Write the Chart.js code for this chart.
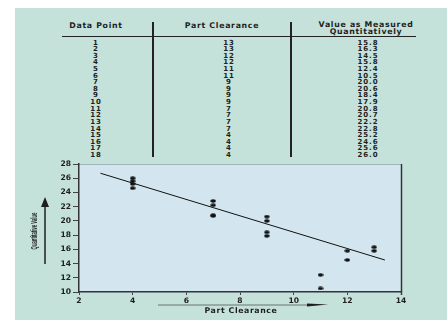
<!DOCTYPE html>
<html>
<head>
<meta charset="utf-8">
<script src="https://cdn.jsdelivr.net/npm/chart.js@4"></script>
<style>
  html, body { margin: 0; padding: 0; background: #fff; }
  body { width: 447px; height: 320px; position: relative; overflow: hidden; }
  #panel { position: absolute; left: 15px; top: 8px; right: 0; bottom: 0; background: #c5e2da; }
  .cell { position: absolute; font-family: "DejaVu Sans", sans-serif; font-weight: bold; color: #1e1e1e;
          white-space: nowrap; transform: translate(-50%, -50%); line-height: 1; }
  .hdr { font-size: 7.8px; letter-spacing: 0.7px; }
  .num { font-size: 7px; letter-spacing: 0.9px; }
  .rule { position: absolute; background: #222; }
  #chart { position: absolute; left: 0; top: 150px; }
</style>
</head>
<body>
<div id="panel"></div>
<div id="table"></div>
<canvas id="chart" width="447" height="170"></canvas>
<script>
// table / data points
const dataPoints = [1, 2, 3, 4, 5, 6, 7, 8, 9, 10, 11, 12, 13, 14, 15, 16, 17, 18];
const partClearance = [13, 13, 12, 12, 11, 11, 9, 9, 9, 9, 7, 7, 7, 7, 4, 4, 4, 4];
const measuredValues = [15.8, 16.3, 14.5, 15.8, 12.4, 10.5, 20.0, 20.6, 18.4, 17.9, 20.8, 20.7, 22.2, 22.8, 25.2, 24.6, 25.6, 26.0];

// fitted trend line
const trendX = [2.8, 13.4];
const trendY = [26.7, 14.5];

const xTicks = [2, 4, 6, 8, 10, 12, 14];
const yTicks = [10, 12, 14, 16, 18, 20, 22, 24, 26, 28];

// ---- table ----
const table = document.getElementById('table');

function addCell(text, x, y, cls) {
  const d = document.createElement('div');
  d.className = 'cell ' + cls;
  d.style.left = x + 'px';
  d.style.top = y + 'px';
  d.textContent = text;
  table.appendChild(d);
}

function addRule(x, y, w, h) {
  const d = document.createElement('div');
  d.className = 'rule';
  d.style.left = x + 'px';
  d.style.top = y + 'px';
  d.style.width = w + 'px';
  d.style.height = h + 'px';
  table.appendChild(d);
}

addCell('Data Point', 96, 26, 'hdr');
addCell('Part Clearance', 222, 26, 'hdr');
addCell('Value as Measured', 366, 25, 'hdr');
addCell('Quantitatively', 366, 31.5, 'hdr');

addRule(62, 36, 354, 1);
addRule(152, 22, 2, 135);
addRule(290, 22, 2, 135);

dataPoints.forEach((p, i) => {
  const y = 42.5 + i * 6.62;
  addCell(String(p), 96, y, 'num');
  addCell(String(partClearance[i]), 229, y, 'num');
  addCell(measuredValues[i].toFixed(1), 368, y, 'num');
});

// ---- chart ----
const TICK_FONT = { family: 'DejaVu Sans', size: 7.6, weight: 'bold' };

// flat oval marker like the printed dots
const dot = document.createElement('canvas');
dot.width = 6;
dot.height = 4;
(function () {
  const c = dot.getContext('2d');
  c.fillStyle = '#111';
  c.beginPath();
  c.ellipse(3, 2, 2.8, 1.8, 0, 0, Math.PI * 2);
  c.fill();
})();

const plotBg = {
  id: 'plotBg',
  beforeDraw(chart) {
    const { ctx, chartArea: a } = chart;
    ctx.save();
    ctx.fillStyle = '#d3e6ef';
    ctx.fillRect(a.left, a.top, a.right - a.left, a.bottom - a.top);
    ctx.strokeStyle = '#9fb3bb';
    ctx.lineWidth = 1;
    ctx.beginPath();
    ctx.moveTo(a.left, a.top + 0.5);
    ctx.lineTo(a.right, a.top + 0.5);
    ctx.stroke();
    ctx.strokeStyle = '#333';
    ctx.lineWidth = 1.5;
    ctx.beginPath();
    ctx.moveTo(a.right + 0.5, a.top);
    ctx.lineTo(a.right + 0.5, a.bottom + 3);
    ctx.stroke();
    ctx.restore();
  }
};

const axisTitles = {
  id: 'axisTitles',
  afterDraw(chart) {
    const { ctx } = chart;
    ctx.save();
    ctx.fillStyle = '#1e1e1e';
    ctx.strokeStyle = '#1e1e1e';

    // y title, squeezed like the original
    ctx.save();
    ctx.translate(35, 81);
    ctx.rotate(-Math.PI / 2);
    ctx.scale(0.5, 1);
    ctx.font = 'bold 8.5px "Liberation Sans"';
    ctx.textAlign = 'center';
    ctx.textBaseline = 'middle';
    ctx.fillText('Quantitative Value', 0, 0);
    ctx.restore();

    // y arrow
    ctx.lineWidth = 1.5;
    ctx.beginPath();
    ctx.moveTo(45, 114);
    ctx.lineTo(45, 56);
    ctx.stroke();
    ctx.beginPath();
    ctx.moveTo(45, 47);
    ctx.lineTo(41, 57);
    ctx.lineTo(49, 57);
    ctx.closePath();
    ctx.fill();

    // x title
    ctx.font = 'bold 7.8px "DejaVu Sans"';
    ctx.letterSpacing = '0.6px';
    ctx.textAlign = 'center';
    ctx.textBaseline = 'middle';
    ctx.fillText('Part Clearance', 241, 160.5);

    // x arrow
    ctx.lineWidth = 0.8;
    ctx.strokeStyle = '#555';
    ctx.beginPath();
    ctx.moveTo(158, 155);
    ctx.lineTo(310, 155);
    ctx.stroke();
    ctx.fillStyle = '#1e1e1e';
    ctx.beginPath();
    ctx.moveTo(307, 153.5);
    ctx.lineTo(328, 154.5);
    ctx.lineTo(307, 156.5);
    ctx.closePath();
    ctx.fill();
    ctx.restore();
  }
};

new Chart(document.getElementById('chart'), {
  type: 'scatter',
  data: {
    datasets: [
      {
        label: 'Measured',
        data: partClearance.map((x, i) => ({ x: x, y: measuredValues[i] })),
        pointStyle: dot,
        backgroundColor: '#111',
        borderColor: '#111'
      },
      {
        type: 'line',
        label: 'Trend',
        data: trendX.map((x, i) => ({ x: x, y: trendY[i] })),
        borderColor: '#111',
        borderWidth: 1,
        pointRadius: 0,
        fill: false
      }
    ]
  },
  options: {
    responsive: false,
    animation: false,
    devicePixelRatio: 1,
    layout: { padding: { top: 14, right: 46, left: 0, bottom: 0 } },
    plugins: {
      legend: { display: false },
      tooltip: { enabled: false }
    },
    scales: {
      x: {
        type: 'linear',
        min: xTicks[0],
        max: xTicks[xTicks.length - 1],
        afterBuildTicks: (s) => { s.ticks = xTicks.map(v => ({ value: v })); },
        afterFit: (s) => { s.height = 28; },
        ticks: { font: TICK_FONT, color: '#1e1e1e', padding: 1 },
        grid: { drawOnChartArea: false, drawTicks: true, tickLength: 3, color: '#444' },
        border: { display: true, color: '#333', width: 1.5 }
      },
      y: {
        min: yTicks[0],
        max: yTicks[yTicks.length - 1],
        afterBuildTicks: (s) => { s.ticks = yTicks.map(v => ({ value: v })); },
        afterFit: (s) => { s.width = 79; },
        ticks: { font: TICK_FONT, color: '#1e1e1e', padding: 2 },
        grid: { drawOnChartArea: false, drawTicks: true, tickLength: 6, color: '#444' },
        border: { display: true, color: '#333', width: 1.5 }
      }
    }
  },
  plugins: [plotBg, axisTitles]
});
</script>
</body>
</html>
